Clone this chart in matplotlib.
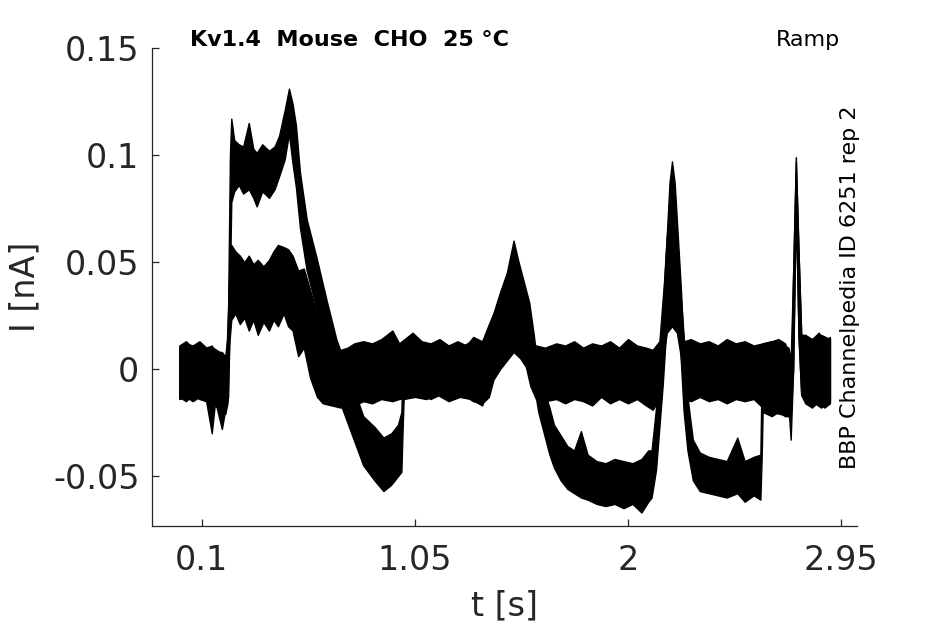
import matplotlib
matplotlib.use("Agg")
import matplotlib.pyplot as plt

# current band of sweep A (s, nA): lower and upper edge of the noisy trace
t_a = [0.00, 0.03, 0.06, 0.09, 0.12, 0.145, 0.16, 0.19, 0.21, 0.218, 0.226, 0.232,
       0.245, 0.265, 0.285, 0.31, 0.33, 0.345, 0.37, 0.40, 0.425, 0.445, 0.47, 0.489,
       0.505, 0.52, 0.538, 0.568, 0.612, 0.657, 0.70, 0.76, 0.82, 0.87, 0.91, 0.945,
       0.975, 0.99, 0.995, 1.00, 1.05, 1.10, 1.15, 1.20, 1.25, 1.30, 1.35,
       1.38, 1.40, 1.43, 1.46, 1.49, 1.51, 1.535, 1.56, 1.58, 1.60, 1.625, 1.65, 1.67,
       1.70, 1.73, 1.76, 1.79, 1.82, 1.86, 1.90, 1.94, 1.98, 2.02, 2.06, 2.09, 2.105,
       2.125, 2.14, 2.155, 2.17, 2.185, 2.196, 2.208, 2.222, 2.236, 2.248, 2.265, 2.289,
       2.32, 2.36, 2.40, 2.44, 2.487, 2.52, 2.56, 2.59, 2.596, 2.60, 2.64, 2.67, 2.70,
       2.718, 2.725, 2.736, 2.748, 2.76, 2.772, 2.79, 2.82, 2.85, 2.875, 2.90]
lo_a = [-0.013, -0.015, -0.012, -0.014, -0.015, -0.030, -0.015, -0.028, -0.016, -0.013, 0.040, 0.078,
        0.083, 0.086, 0.082, 0.084, 0.080, 0.076, 0.083, 0.080, 0.084, 0.090, 0.098, 0.110,
        0.096, 0.085, 0.066, 0.046, 0.028, 0.008, -0.011, -0.028, -0.045, -0.052, -0.057, -0.054,
        -0.050, -0.048, -0.030, -0.014, -0.013, -0.014, -0.012, -0.015, -0.013, -0.014, -0.017,
        -0.008, 0.000, 0.010, 0.020, 0.028, 0.026, 0.018, 0.006, -0.007, -0.020, -0.030, -0.040, -0.046,
        -0.052, -0.056, -0.058, -0.060, -0.061, -0.063, -0.064, -0.063, -0.065, -0.063, -0.067, -0.062, -0.060,
        -0.047, -0.027, -0.007, 0.018, 0.048, 0.078, 0.053, 0.028, 0.003, -0.020, -0.038, -0.052,
        -0.057, -0.058, -0.059, -0.060, -0.058, -0.062, -0.059, -0.061, -0.040, -0.020, -0.022, -0.020, -0.022,
        -0.022, -0.033, 0.000, 0.080, 0.015, -0.012, -0.016, -0.018, -0.015, -0.018, -0.016]
hi_a = [0.011, 0.013, 0.010, 0.012, 0.010, 0.011, 0.008, 0.008, 0.005, 0.030, 0.100, 0.117,
        0.107, 0.105, 0.104, 0.115, 0.103, 0.101, 0.105, 0.102, 0.104, 0.109, 0.121, 0.131,
        0.124, 0.114, 0.092, 0.070, 0.052, 0.032, 0.014, -0.004, -0.022, -0.027, -0.032, -0.030,
        -0.026, -0.020, 0.000, 0.010, 0.013, 0.011, 0.012, 0.011, 0.010, 0.013, 0.011,
        0.018, 0.026, 0.036, 0.045, 0.060, 0.051, 0.041, 0.031, 0.016, -0.001, -0.010, -0.018, -0.026,
        -0.031, -0.036, -0.038, -0.029, -0.040, -0.043, -0.044, -0.042, -0.043, -0.044, -0.042, -0.038, -0.038,
        -0.018, 0.002, 0.027, 0.057, 0.087, 0.097, 0.087, 0.062, 0.037, 0.010, -0.013, -0.033,
        -0.039, -0.041, -0.042, -0.043, -0.032, -0.043, -0.041, -0.040, 0.000, 0.012, 0.013, 0.014, 0.012,
        0.005, -0.015, 0.045, 0.099, 0.055, 0.016, 0.016, 0.014, 0.017, 0.013, 0.015]

# current band of sweep B (s, nA)
t_b = [0.00, 0.03, 0.06, 0.09, 0.12, 0.15, 0.18, 0.205, 0.215, 0.224, 0.232, 0.25,
       0.27, 0.29, 0.31, 0.33, 0.35, 0.375, 0.40, 0.42, 0.44, 0.465, 0.485, 0.505,
       0.53, 0.555, 0.583, 0.614, 0.64, 0.68, 0.72, 0.75, 0.78, 0.82, 0.86, 0.90,
       0.95, 0.98, 1.04, 1.08, 1.12, 1.16, 1.20, 1.24, 1.28, 1.31, 1.35, 1.38, 1.40,
       1.43, 1.46, 1.49, 1.52, 1.545, 1.565, 1.59, 1.63, 1.68, 1.72, 1.76, 1.80, 1.84,
       1.88, 1.92, 1.96, 2.00, 2.04, 2.08, 2.11, 2.14, 2.16, 2.173, 2.196, 2.218, 2.235,
       2.25, 2.28, 2.32, 2.36, 2.40, 2.44, 2.48, 2.52, 2.56, 2.60, 2.64, 2.68, 2.715,
       2.725, 2.736, 2.748, 2.76, 2.772, 2.79, 2.82, 2.86, 2.90]
lo_b = [-0.014, -0.013, -0.015, -0.013, -0.015, -0.017, -0.018, -0.021, -0.016, 0.013, 0.023, 0.026,
        0.021, 0.024, 0.018, 0.023, 0.016, 0.022, 0.018, 0.023, 0.020, 0.026, 0.020, 0.018,
        0.006, 0.010, -0.004, -0.013, -0.016, -0.017, -0.018, -0.018, -0.017, -0.015, -0.016, -0.014,
        -0.015, -0.014, -0.013, -0.012, -0.014, -0.012, -0.014, -0.011, -0.013, -0.015, -0.016, -0.013, -0.005,
        0.000, 0.004, 0.008, 0.005, 0.001, -0.008, -0.014, -0.015, -0.014, -0.016, -0.014, -0.015, -0.017,
        -0.013, -0.016, -0.014, -0.016, -0.014, -0.017, -0.019, -0.014, 0.008, 0.017, 0.020, 0.017, 0.006,
        -0.014, -0.015, -0.013, -0.015, -0.014, -0.016, -0.014, -0.015, -0.014, -0.018, -0.020, -0.021, -0.022,
        -0.022, 0.000, 0.075, 0.015, -0.012, -0.015, -0.015, -0.018, -0.015]
hi_b = [0.010, 0.012, 0.011, 0.013, 0.010, 0.010, 0.008, 0.006, 0.015, 0.050, 0.058, 0.055,
        0.053, 0.050, 0.053, 0.049, 0.051, 0.048, 0.051, 0.055, 0.058, 0.057, 0.056, 0.053,
        0.046, 0.047, 0.037, 0.026, 0.014, 0.010, 0.009, 0.010, 0.012, 0.013, 0.012, 0.014,
        0.018, 0.012, 0.017, 0.013, 0.012, 0.014, 0.011, 0.013, 0.011, 0.015, 0.013, 0.021, 0.026,
        0.029, 0.033, 0.036, 0.031, 0.023, 0.013, 0.011, 0.010, 0.012, 0.011, 0.013, 0.010, 0.012,
        0.011, 0.013, 0.010, 0.014, 0.011, 0.010, 0.009, 0.013, 0.040, 0.062, 0.085, 0.062, 0.034,
        0.013, 0.014, 0.012, 0.013, 0.011, 0.014, 0.012, 0.013, 0.011, 0.012, 0.013, 0.012, 0.010,
        0.004, 0.045, 0.097, 0.055, 0.016, 0.015, 0.014, 0.016, 0.014]

x_ticks = [0.1, 1.05, 2, 2.95]
x_labels = ['0.1', '1.05', '2', '2.95']
y_ticks = [-0.05, 0, 0.05, 0.1, 0.15]
y_labels = ['-0.05', '0', '0.05', '0.1', '0.15']

title_txt = 'Kv1.4  Mouse  CHO  25 °C'
protocol_txt = 'Ramp'
source_txt = 'BBP Channelpedia ID 6251 rep 2'

grey = '#262626'

fig = plt.figure(figsize=(9.45, 6.24), dpi=100)
ax = fig.add_axes([0.1608, 0.1571, 0.7457, 0.7660])

for t, lo, hi in [(t_a, lo_a, hi_a), (t_b, lo_b, hi_b)]:
    ax.fill_between(t, lo, hi, color='black', linewidth=1.0, edgecolor='black')

ax.set_xlim(-0.1215, 3.019)
ax.set_ylim(-0.0733, 0.15)
ax.set_xticks(x_ticks)
ax.set_xticklabels(x_labels)
ax.set_yticks(y_ticks)
ax.set_yticklabels(y_labels)

for side in ['top', 'right']:
    ax.spines[side].set_visible(False)
for side in ['left', 'bottom']:
    ax.spines[side].set_color(grey)
    ax.spines[side].set_linewidth(0.9)

ax.tick_params(direction='in', length=5, width=0.9, colors=grey, labelsize=24)
ax.tick_params(axis='x', pad=13)
ax.tick_params(axis='y', pad=9)

ax.set_xlabel('t [s]', fontsize=24, color=grey, labelpad=9)
ax.set_ylabel('I [nA]', fontsize=24, color=grey, labelpad=8)

ax.text(0.054, 1.017, title_txt, transform=ax.transAxes, fontsize=16,
        fontweight='bold', ha='left', va='center')
ax.text(0.977, 1.017, protocol_txt, transform=ax.transAxes, fontsize=16,
        ha='right', va='center')
ax.text(0.9905, 0.5, source_txt, transform=ax.transAxes, fontsize=16,
        rotation=90, ha='center', va='center')

fig.savefig('out.png', dpi=100)
